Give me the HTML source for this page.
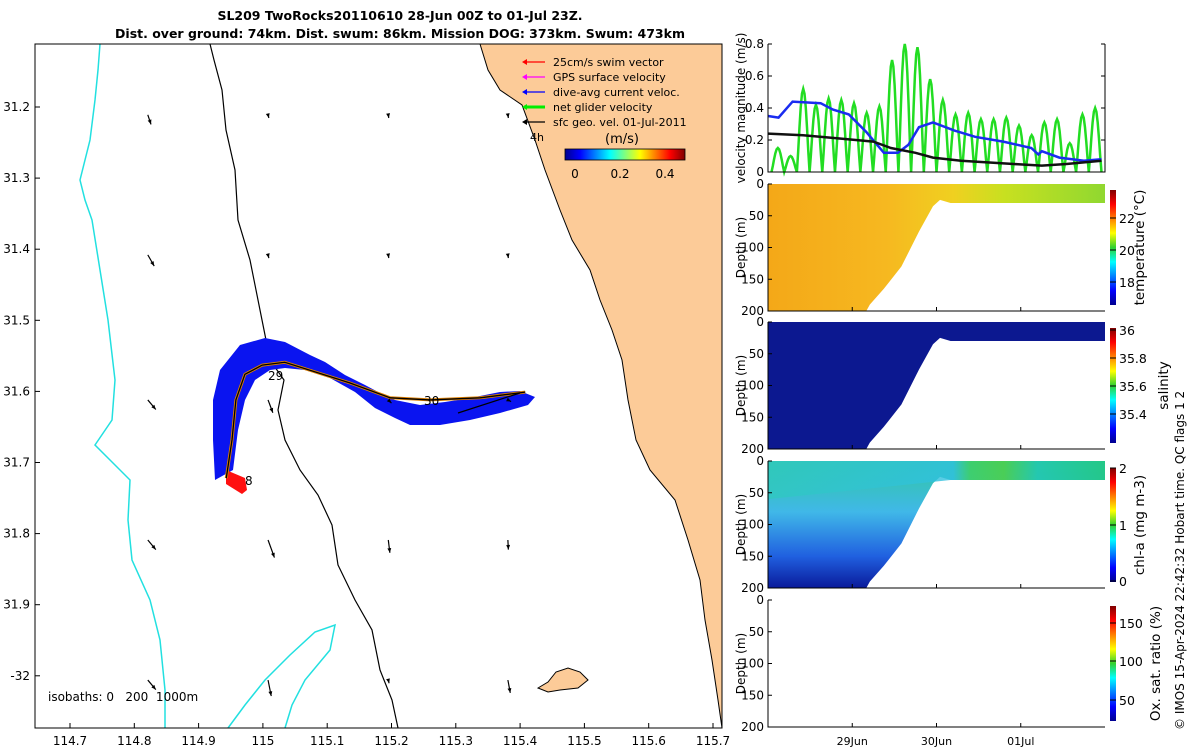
<!DOCTYPE html>
<html><head><meta charset="utf-8">
<style>
body{margin:0;background:#fff;width:1200px;height:750px;overflow:hidden;font-family:"Liberation Sans","DejaVu Sans",sans-serif;}
svg text{font-family:"DejaVu Sans","Liberation Sans",sans-serif;}
</style></head>
<body>
<svg id="s" width="1200" height="750" viewBox="0 0 1200 750" xmlns="http://www.w3.org/2000/svg">
<defs>
<linearGradient id="jetH" x1="0" x2="1" y1="0" y2="0">
<stop offset="0" stop-color="#00008f"/><stop offset="0.125" stop-color="#0000ff"/><stop offset="0.375" stop-color="#00ffff"/><stop offset="0.625" stop-color="#ffff00"/><stop offset="0.875" stop-color="#ff0000"/><stop offset="1" stop-color="#800000"/></linearGradient>
<linearGradient id="jetV" x1="0" x2="0" y1="1" y2="0">
<stop offset="0" stop-color="#00008f"/><stop offset="0.125" stop-color="#0000ff"/><stop offset="0.375" stop-color="#00ffff"/><stop offset="0.5" stop-color="#30d030"/><stop offset="0.625" stop-color="#ffff00"/><stop offset="0.875" stop-color="#ff0000"/><stop offset="1" stop-color="#800000"/></linearGradient>
<linearGradient id="tempG" x1="0" x2="1" y1="0" y2="0">
<stop offset="0" stop-color="#f4a818"/><stop offset="0.35" stop-color="#f6b820"/><stop offset="0.55" stop-color="#f0d020"/><stop offset="0.7" stop-color="#c8e020"/><stop offset="1" stop-color="#90d830"/></linearGradient>
<linearGradient id="chlG" x1="0" x2="0" y1="0" y2="1">
<stop offset="0" stop-color="#30c8a0"/><stop offset="0.4" stop-color="#40b8e8"/><stop offset="0.75" stop-color="#2060e0"/><stop offset="1" stop-color="#0a1a9a"/></linearGradient>
<linearGradient id="chlTop" x1="0" x2="1" y1="0" y2="0">
<stop offset="0" stop-color="#30c8c0"/><stop offset="0.55" stop-color="#30c0e0"/><stop offset="0.6" stop-color="#40d060"/><stop offset="0.7" stop-color="#50d040"/><stop offset="0.8" stop-color="#20c8b0"/><stop offset="1" stop-color="#20c880"/></linearGradient>
</defs>
<g id="map"></g>
<g id="right"></g>
<text x="400" y="20" text-anchor="middle" font-size="12.5" font-weight="bold">SL209 TwoRocks20110610 28-Jun 00Z to 01-Jul 23Z.</text>
<text x="400" y="38" text-anchor="middle" font-size="12.5" font-weight="bold">Dist. over ground: 74km. Dist. swum: 86km. Mission DOG: 373km. Swum: 473km</text>
<text transform="translate(1184,730) rotate(-90)" font-size="12">© IMOS 15-Apr-2024 22:42:32 Hobart time. QC flags 1  2</text>
</svg>
<script>
// ---------- MAP DATA ----------
const lonTicks=[114.7,114.8,114.9,115,115.1,115.2,115.3,115.4,115.5,115.6,115.7];
const latTicks=[31.2,31.3,31.4,31.5,31.6,31.7,31.8,31.9,32];
const trackLon=[114.943,114.952,114.958,114.972,114.999,115.034,115.135,115.198,115.260,115.338,115.408];
const trackLat=[31.722,31.668,31.612,31.576,31.563,31.559,31.588,31.609,31.612,31.609,31.601];
const arrowLon=[114.821,115.008,115.195,115.381];
const arrowLat=[31.211,31.408,31.612,31.809,32.006];
const arrowU=[[2,0.5,0.3,0.3],[4,0.5,0.3,0.3],[5,3,2,2],[5,4,1,0.3],[5,2,0.5,1.5]];
const arrowV=[[6,2,2,2],[7,2,2,2],[6,8,2,1],[6,11,8,6],[6,10,2,8]];
const SVGNS="http://www.w3.org/2000/svg";
const X0=35,X1=722,Y0=44,Y1=728;
function lx(l){return 70+(l-114.7)*643;}
function ly(l){return 107+(l-31.2)*711;}
function el(tag,attrs,parent){const e=document.createElementNS(SVGNS,tag);for(const k in attrs)e.setAttribute(k,attrs[k]);parent.appendChild(e);return e;}
const map=document.getElementById('map');
let land=el('polygon',{points:"480,44 488,70 500,90 522,105 535,140 545,170 560,210 572,240 590,270 600,300 612,330 622,360 628,400 636,440 650,470 675,500 688,540 700,580 705,620 712,660 718,700 722,728 722,44",fill:"#fccb98"},map);


let coast=el('polyline',{points:"480,44 488,70 500,90 522,105 535,140 545,170 560,210 572,240 590,270 600,300 612,330 622,360 628,400 636,440 650,470 675,500 688,540 700,580 705,620 712,660 718,700 722,728",fill:"none",stroke:"#000","stroke-width":1},map);


let isl=el('polygon',{points:"538,688 548,682 556,672 568,668 580,672 588,680 578,688 560,690 548,692",fill:"#fccb98",stroke:"#000","stroke-width":1},map);


let iso0=el('polyline',{points:"100,44 98,70 95,100 90,140 80,180 85,200 92,220 100,270 108,320 115,380 112,420 95,445 110,460 130,480 128,520 132,560 150,600 160,640 165,690 165,728",fill:"none",stroke:"#22e0e0","stroke-width":1.5},map);


let iso1=el('polyline',{points:"228,728 245,705 265,680 290,655 315,632 335,625 330,650 305,680 292,705 285,728",fill:"none",stroke:"#22e0e0","stroke-width":1.5},map);


let iso2=el('polyline',{points:"210,44 214,60 222,90 226,130 235,170 238,220 250,260 262,320 270,360 284,380 278,410 285,440 300,470 318,495 332,525 338,565 355,600 372,630 380,670 392,700 398,728",fill:"none",stroke:"#000","stroke-width":1.2},map);


let sw=el('polygon',{points:"215,480 213,440 213,400 220,370 240,345 265,338 285,342 310,355 325,362 345,375 365,385 380,393 395,400 420,405 445,402 470,398 500,392 520,391 535,397 528,405 500,413 470,420 440,425 410,425 395,418 375,408 355,392 330,378 305,370 285,368 270,370 255,380 245,400 238,430 233,470",fill:"#0a14f0"},map);


let red=el('polygon',{points:"226,470 245,478 247,490 242,494 226,484",fill:"#ff1010"},map);


let tp=trackLon.map((l,i)=>lx(l)+','+ly(trackLat[i])).join(' ');
let tro=el('polyline',{points:tp,fill:"none",stroke:"#e08000","stroke-width":3},map);


let tr=el('polyline',{points:tp,fill:"none",stroke:"#000","stroke-width":1.3},map);


let netl=el('line',{x1:458,y1:413,x2:520,y2:393,stroke:"#000","stroke-width":1.2},map);


[["29",268,380],["30",424,405],["8",245,485]].forEach(d=>{let t=el('text',{x:d[1],y:d[2],"font-size":12},map);t.textContent=d[0];

});
arrowLat.forEach((la,r)=>arrowLon.forEach((lo,c)=>{
 const x=lx(lo),y=ly(la),u=arrowU[r][c],v=arrowV[r][c];
 const x2=x+u*1.6,y2=y+v*1.6;
 const g=el('g',{},map);
 
 
 el('line',{x1:x,y1:y,x2:x2,y2:y2,stroke:"#000","stroke-width":1.2},g);
 const a=Math.atan2(y2-y,x2-x);
 const p=[[x2,y2],[x2-5*Math.cos(a-0.4),y2-5*Math.sin(a-0.4)],[x2-5*Math.cos(a+0.4),y2-5*Math.sin(a+0.4)]];
 el('polygon',{points:p.map(q=>q.join(',')).join(' '),fill:"#000"},g);
}));
let fr=el('rect',{x:X0,y:Y0,width:X1-X0,height:Y1-Y0,fill:"none",stroke:"#000","stroke-width":1},map);


lonTicks.forEach(l=>{const x=lx(l);el('line',{x1:x,y1:Y1,x2:x,y2:Y1-5,stroke:"#000"},map);
 const t=el('text',{x:x,y:Y1+17,"text-anchor":"middle","font-size":12},map);t.textContent=l.toFixed(1).replace(/\.0$/,'');
 
 });
latTicks.forEach(l=>{const y=ly(l);el('line',{x1:X0,y1:y,x2:X0+5,y2:y,stroke:"#000"},map);
 const t=el('text',{x:X0-5,y:y+4,"text-anchor":"end","font-size":12},map);t.textContent=l===32?'-32':l.toFixed(1);
 
 });
let isoT=el('text',{x:48,y:701,"font-size":12},map);isoT.textContent='isobaths: 0   200  1000m';
isoT.setAttribute('style','white-space:pre');


const legTxt=['25cm/s swim vector','GPS surface velocity','dive-avg current veloc.','net glider velocity','sfc geo. vel. 01-Jul-2011'];
const legCol=['#ff0000','#ff00ff','#0000ff','#00ee00','#000000'];
legTxt.forEach((s,i)=>{const y=62+i*15;const g=el('g',{},map);
 
 
 el('line',{x1:524,y1:y,x2:545,y2:y,stroke:legCol[i],"stroke-width":i==3?3:1.3},g);
 el('polygon',{points:`522,${y} 527,${y-3} 527,${y+3}`,fill:legCol[i]},g);
 const t=el('text',{x:553,y:y+4,"font-size":11},g);t.textContent=s;});
let t4=el('text',{x:530,y:141,"font-size":11},map);t4.textContent='4h';


let cbu=el('text',{x:605,y:143,"font-size":13},map);cbu.textContent='(m/s)';


let cb=el('rect',{x:565,y:149,width:120,height:11,fill:"url(#jetH)",stroke:"#000","stroke-width":0.8},map);


[["0",575],["0.2",620],["0.4",665]].forEach(d=>{const t=el('text',{x:d[1],y:178,"text-anchor":"middle","font-size":12},map);t.textContent=d[0];

});

// ---------- RIGHT PANELS DATA ----------
const greenPeaks=[0.15,0.10,0.52,0.42,0.46,0.45,0.43,0.37,0.41,0.70,0.80,0.78,0.58,0.45,0.36,0.37,0.33,0.33,0.34,0.29,0.23,0.31,0.33,0.18,0.36,0.40];
const blueH=[0,3,7,15,18.5,23,28,33,37,40,43,47,53,59,67,75,77,78,83,90,95];
const blueV=[0.35,0.34,0.44,0.43,0.39,0.36,0.25,0.12,0.12,0.17,0.28,0.31,0.26,0.22,0.19,0.15,0.11,0.13,0.09,0.07,0.08];
const blackH=[0,10,20,30,35,42,47,55,70,78,85,95];
const blackV=[0.24,0.23,0.21,0.19,0.15,0.12,0.09,0.07,0.05,0.04,0.05,0.07];
const velTicks=[0,0.2,0.4,0.6,0.8];
const profH=[0,28,29,33,38,43,47,49,52,96];
const profBottom=[200,200,190,165,130,75,35,25,30,30];
const dayLabels=['29Jun','30Jun','01Jul'];
const dayHours=[24,48,72];
const depthTicks=[0,50,100,150,200];
const R=document.getElementById('right');
const PX0=768,PX1=1105;
function hx(h){return PX0+h*(PX1-PX0)/96;}
const VY0=44,VY1=172;
function vy(v){return VY1-v*(VY1-VY0)/0.8;}
let gp=[];const per=94/greenPeaks.length;
greenPeaks.forEach((p,i)=>{for(let k=0;k<=10;k++){const h=1+i*per+k*per/10;gp.push(hx(h)+','+vy(p*Math.pow(Math.sin(Math.PI*k/10),1.2)));}});
let gl=el('polyline',{points:gp.join(' '),fill:"none",stroke:"#22dd22","stroke-width":2.5},R);


let bl=el('polyline',{points:blueH.map((h,i)=>hx(h)+','+vy(blueV[i])).join(' '),fill:"none",stroke:"#1a2cf0","stroke-width":2.5},R);


let kl=el('polyline',{points:blackH.map((h,i)=>hx(h)+','+vy(blackV[i])).join(' '),fill:"none",stroke:"#111","stroke-width":2.5},R);


let vf=el('path',{d:`M${PX0},${VY0}V${VY1}H${PX1}V${VY0}`,fill:"none",stroke:"#000"},R);


velTicks.forEach(v=>{el('line',{x1:PX0,y1:vy(v),x2:PX0+4,y2:vy(v),stroke:"#000"},R);el('line',{x1:PX1,y1:vy(v),x2:PX1-4,y2:vy(v),stroke:"#000"},R);
 const t=el('text',{x:PX0-4,y:vy(v)+4,"text-anchor":"end","font-size":12},R);t.textContent=String(v);
 
 });
let vyl=el('text',{transform:`translate(745,${(VY0+VY1)/2}) rotate(-90)`,"text-anchor":"middle","font-size":12},R);vyl.textContent='velocity magnitude (m/s)';


const panels=[
 {top:184,name:'temperature',fill:'url(#tempG)',cbTicks:[["22",218],["20",250],["18",282]],cbTop:190,cbBot:305,label:'temperature (°C)',lx:1144},
 {top:322,name:'salinity',fill:'#0c1890',cbTicks:[["36",330],["35.8",358],["35.6",386],["35.4",414]],cbTop:328,cbBot:443,label:'salinity',lx:1168},
 {top:461,name:'chl-a',fill:'url(#chlG)',cbTicks:[["2",468],["1",525],["0",581]],cbTop:468,cbBot:582,label:'chl-a (mg m-3)',lx:1144},
 {top:600,name:'oxygen',fill:null,cbTicks:[["150",623],["100",661],["50",700]],cbTop:606,cbBot:721,label:'Ox. sat. ratio (%)',lx:1160}];
panels.forEach((P,pi)=>{
 const H=127;const dy=d=>P.top+d*H/200;
 if(P.fill){
  let pts=[hx(0)+','+dy(0)];profH.forEach((h,i)=>pts.push(hx(h)+','+dy(profBottom[i])));pts.push(hx(96)+','+dy(0));
  let sec=el('polygon',{points:pts.join(' '),fill:P.fill},R);
  
  
  if(pi==2){let s2=el('polygon',{points:[hx(0)+','+dy(0),hx(96)+','+dy(0),hx(96)+','+dy(30),hx(52)+','+dy(30),hx(0)+','+dy(60)].join(' '),fill:"url(#chlTop)",opacity:0.8},R);
   
   }
 }
 let ax=el('path',{d:`M${PX0},${P.top}V${P.top+H}H${PX1}`,fill:"none",stroke:"#000"},R);
 
 
 depthTicks.forEach(d=>{el('line',{x1:PX0,y1:dy(d),x2:PX0+4,y2:dy(d),stroke:"#000"},R);
  const t=el('text',{x:PX0-4,y:dy(d)+4,"text-anchor":"end","font-size":12},R);t.textContent=String(d);
  
  });
 dayHours.forEach(h=>el('line',{x1:hx(h),y1:P.top+H,x2:hx(h),y2:P.top+H-4,stroke:"#000"},R));
 let yl=el('text',{transform:`translate(745,${P.top+H/2}) rotate(-90)`,"text-anchor":"middle","font-size":12},R);yl.textContent='Depth (m)';
 
 
 let c=el('rect',{x:1110,y:P.cbTop,width:6,height:P.cbBot-P.cbTop,fill:"url(#jetV)"},R);
 
 
 P.cbTicks.forEach(d=>{el('line',{x1:1110,y1:d[1],x2:1116,y2:d[1],stroke:"#000"},R);
  const t=el('text',{x:1119,y:d[1]+5,"font-size":12.5},R);t.textContent=d[0];
  
  });
 let cl=el('text',{transform:`translate(${P.lx},${(P.cbTop+P.cbBot)/2}) rotate(-90)`,"text-anchor":"middle","font-size":13.5},R);cl.textContent=P.label;
 
 
});
dayLabels.forEach((s,i)=>{const t=el('text',{x:hx(dayHours[i]),y:745,"text-anchor":"middle","font-size":11},R);t.textContent=s;
 
 });
</script>
</body></html>
